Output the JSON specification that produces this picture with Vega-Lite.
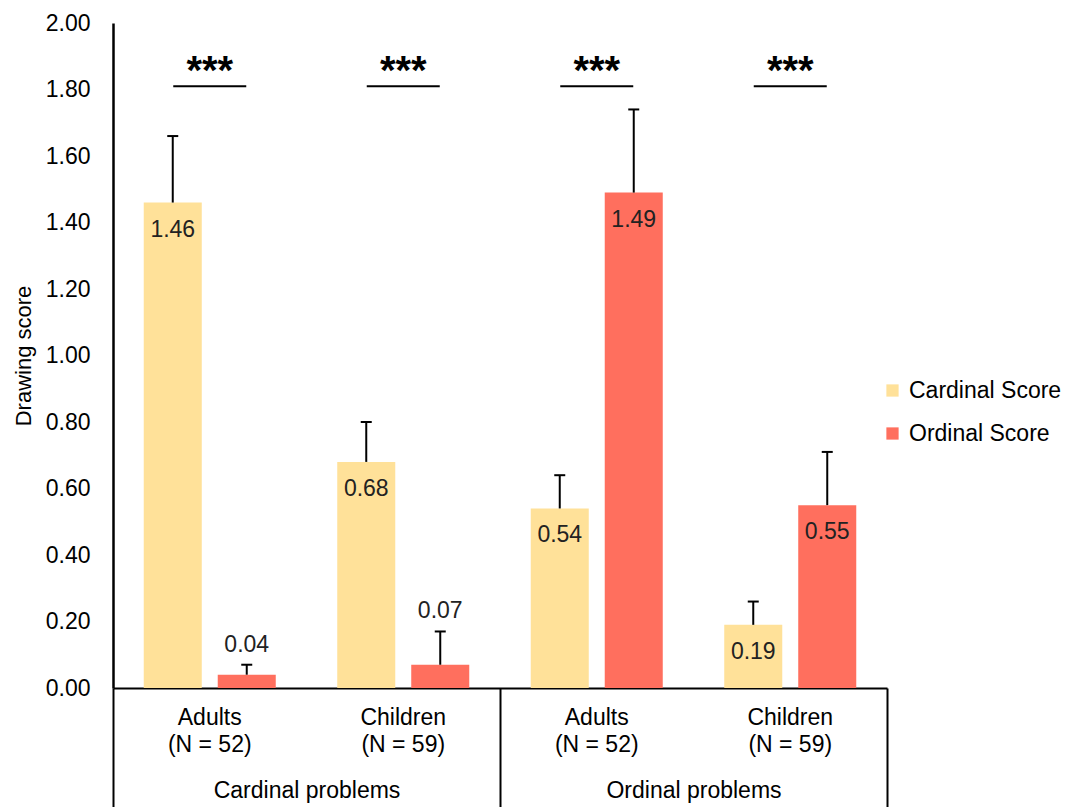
{
  "$schema": "https://vega.github.io/schema/vega-lite/v6.json",
  "autosize": {"type": "none"},
  "padding": {"left": 113, "top": 23, "right": 190, "bottom": 119},
  "width": 774,
  "height": 665,
  "background": "white",
  "config": {
    "view": {"stroke": null},
    "font": "Liberation Sans",
    "axis": {"labelFont": "Liberation Sans", "titleFont": "Liberation Sans", "labelColor": "black", "titleColor": "black", "labelLimit": 0},
    "legend": {"labelFont": "Liberation Sans"}
  },
  "datasets": {
    "scores": [
      {"problem": "Cardinal problems", "sub": "Cardinal problems|Adults|(N = 52)", "series": "Cardinal Score", "value": 1.46, "upper": 1.66},
      {"problem": "Cardinal problems", "sub": "Cardinal problems|Adults|(N = 52)", "series": "Ordinal Score", "value": 0.04, "upper": 0.07},
      {"problem": "Cardinal problems", "sub": "Cardinal problems|Children|(N = 59)", "series": "Cardinal Score", "value": 0.68, "upper": 0.80},
      {"problem": "Cardinal problems", "sub": "Cardinal problems|Children|(N = 59)", "series": "Ordinal Score", "value": 0.07, "upper": 0.17},
      {"problem": "Ordinal problems", "sub": "Ordinal problems|Adults|(N = 52)", "series": "Cardinal Score", "value": 0.54, "upper": 0.64},
      {"problem": "Ordinal problems", "sub": "Ordinal problems|Adults|(N = 52)", "series": "Ordinal Score", "value": 1.49, "upper": 1.74},
      {"problem": "Ordinal problems", "sub": "Ordinal problems|Children|(N = 59)", "series": "Cardinal Score", "value": 0.19, "upper": 0.26},
      {"problem": "Ordinal problems", "sub": "Ordinal problems|Children|(N = 59)", "series": "Ordinal Score", "value": 0.55, "upper": 0.71}
    ],
    "sig": [
      {"problem": "Cardinal problems", "sub": "Cardinal problems|Adults|(N = 52)", "level": 1.81, "stars": "***"},
      {"problem": "Cardinal problems", "sub": "Cardinal problems|Children|(N = 59)", "level": 1.81, "stars": "***"},
      {"problem": "Ordinal problems", "sub": "Ordinal problems|Adults|(N = 52)", "level": 1.81, "stars": "***"},
      {"problem": "Ordinal problems", "sub": "Ordinal problems|Children|(N = 59)", "level": 1.81, "stars": "***"}
    ]
  },
  "layer": [
    {
      "encoding": {
        "x": {
          "field": "sub", "type": "nominal", "sort": null,
          "scale": {"paddingInner": 0, "paddingOuter": 0},
          "axis": {
            "orient": "bottom", "title": null, "domain": true, "domainColor": "black", "domainWidth": 2,
            "ticks": false, "labelAngle": 0, "labelFontSize": 23, "labelLineHeight": 27, "labelPadding": 18,
            "labelExpr": "[split(datum.value, '|')[1], split(datum.value, '|')[2]]"
          }
        }
      },
      "layer": [
        {
          "data": {"name": "scores"},
          "mark": {"type": "bar"},
          "encoding": {
            "xOffset": {"field": "series", "type": "nominal", "scale": {"paddingInner": 0.216, "paddingOuter": 0.4155}},
            "y": {
              "field": "value", "type": "quantitative",
              "scale": {"domain": [0, 2], "nice": false},
              "axis": {
                "title": "Drawing score", "titleFontSize": 22, "titleFontWeight": "normal", "titlePadding": 10,
                "format": ".2f", "values": [0, 0.2, 0.4, 0.6, 0.8, 1.0, 1.2, 1.4, 1.6, 1.8, 2.0],
                "labelFontSize": 23, "labelPadding": 23, "ticks": false, "grid": false,
                "domainColor": "black", "domainWidth": 2.5
              }
            },
            "color": {
              "field": "series", "type": "nominal",
              "scale": {"domain": ["Cardinal Score", "Ordinal Score"], "range": ["#FFE199", "#FF6F5E"]},
              "legend": {
                "title": null, "orient": "none", "legendX": 768, "legendY": 356,
                "symbolType": "square", "symbolSize": 150, "symbolStrokeWidth": 0,
                "labelFontSize": 23, "labelOffset": 5, "rowPadding": 19, "padding": 0
              }
            }
          }
        },
        {
          "data": {"name": "scores"},
          "mark": {"type": "rule", "color": "black", "strokeWidth": 2},
          "encoding": {
            "xOffset": {"field": "series", "type": "nominal"},
            "y": {"field": "value", "type": "quantitative"},
            "y2": {"field": "upper"}
          }
        },
        {
          "data": {"name": "scores"},
          "mark": {"type": "tick", "color": "black", "opacity": 1, "thickness": 2, "size": 11, "orient": "horizontal"},
          "encoding": {
            "xOffset": {"field": "series", "type": "nominal"},
            "y": {"field": "upper", "type": "quantitative"}
          }
        },
        {
          "data": {"name": "scores"},
          "transform": [{"filter": "datum.value >= 0.1"}],
          "mark": {"type": "text", "fontSize": 23, "color": "#222222", "baseline": "middle", "dy": 27},
          "encoding": {
            "xOffset": {"field": "series", "type": "nominal"},
            "y": {"field": "value", "type": "quantitative"},
            "text": {"field": "value", "type": "quantitative", "format": ".2f"}
          }
        },
        {
          "data": {"name": "scores"},
          "transform": [{"filter": "datum.value < 0.1"}],
          "mark": {"type": "text", "fontSize": 23, "color": "#222222", "baseline": "middle", "dy": -20},
          "encoding": {
            "xOffset": {"field": "series", "type": "nominal"},
            "y": {"field": "upper", "type": "quantitative"},
            "text": {"field": "value", "type": "quantitative", "format": ".2f"}
          }
        },
        {
          "data": {"name": "sig"},
          "mark": {"type": "tick", "color": "black", "opacity": 1, "thickness": 2, "size": 73, "orient": "horizontal"},
          "encoding": {
            "y": {"field": "level", "type": "quantitative"}
          }
        },
        {
          "data": {"name": "sig"},
          "mark": {"type": "text", "fontSize": 40, "fontWeight": "bold", "color": "black", "baseline": "alphabetic", "dy": -2},
          "encoding": {
            "y": {"field": "level", "type": "quantitative"},
            "text": {"field": "stars"}
          }
        }
      ]
    },
    {
      "data": {"name": "sig"},
      "mark": {"type": "tick", "opacity": 0},
      "encoding": {
        "x": {
          "field": "problem", "type": "nominal", "sort": null,
          "scale": {"paddingInner": 0, "paddingOuter": 0},
          "axis": {
            "orient": "bottom", "title": null, "domain": false, "ticks": true, "tickBand": "extent",
            "tickSize": 119, "tickWidth": 2, "tickColor": "black", "labelAngle": 0,
            "labelFontSize": 23, "labelPadding": -28, "labelLimit": 0
          }
        },
        "y": {"field": "level", "type": "quantitative"}
      }
    }
  ],
  "resolve": {"scale": {"x": "independent"}, "axis": {"x": "independent"}}
}
